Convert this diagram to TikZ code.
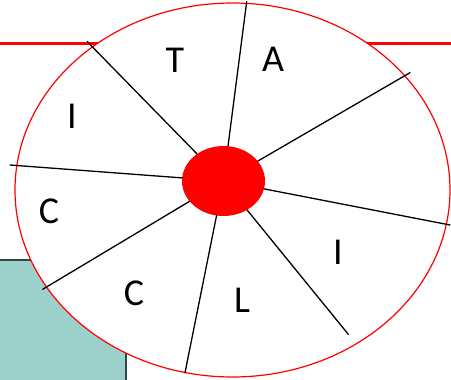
\documentclass[tikz,border=0pt]{standalone}
\usepackage{fontspec}
\setmainfont{Carlito}
\usetikzlibrary{shapes.geometric}
\definecolor{teal bg}{HTML}{9CD0CB}
\definecolor{teal edge}{HTML}{2E4A48}
\definecolor{rim red}{HTML}{FF0000}
\begin{document}
\begin{tikzpicture}[x=1pt, y=-1pt, line cap=round, line join=round,
  letter/.style={font=\fontsize{38}{40}\selectfont, inner sep=0pt},
  spoke/.style={line width=1.3pt, black}]
  \useasboundingbox (0,0) rectangle (451,380);
  % el recuadro verde de abajo
  \fill[teal bg] (0,260) rectangle (126,380);
  \draw[teal edge, line width=2pt, line cap=butt] (0,260) -- (126,260) -- (126,380);
  % la raya roja de arriba
  \draw[rim red, line width=2.6pt, line cap=butt] (0,43.5) -- (451,43.5);
  % la rueda y su centro
  \filldraw[fill=white, draw=rim red, line width=1.2pt] (232.5,190) ellipse [x radius=217.5, y radius=187];
  \node[ellipse, fill=rim red, minimum width=83, minimum height=70, inner sep=0pt] (hub) at (223.5,181) {};
  % los radios, de fuera hacia el centro
  \coordinate (r1) at (87.3,41.7);
  \coordinate (r2) at (246.7,1.7);
  \coordinate (r3) at (410,72.7);
  \coordinate (r4) at (10,165);
  \coordinate (r5) at (450,225);
  \coordinate (r6) at (42.7,289.3);
  \coordinate (r7) at (185,372.7);
  \coordinate (r8) at (348.3,334.3);
  \foreach \r in {1,...,8}
    \draw[spoke] (r\r) -- (hub);
  % las letras
  \node[letter] (t)  at (175,60)  {T};
  \node[letter] (a)  at (273,59)  {A};
  \node[letter] (i1) at (72,116)  {I};
  \node[letter] (c1) at (49,211)  {C};
  \node[letter] (c2) at (134,293) {C};
  \node[letter] (l)  at (242,300) {L};
  \node[letter] (i2) at (338,252) {I};
\end{tikzpicture}
\end{document}
